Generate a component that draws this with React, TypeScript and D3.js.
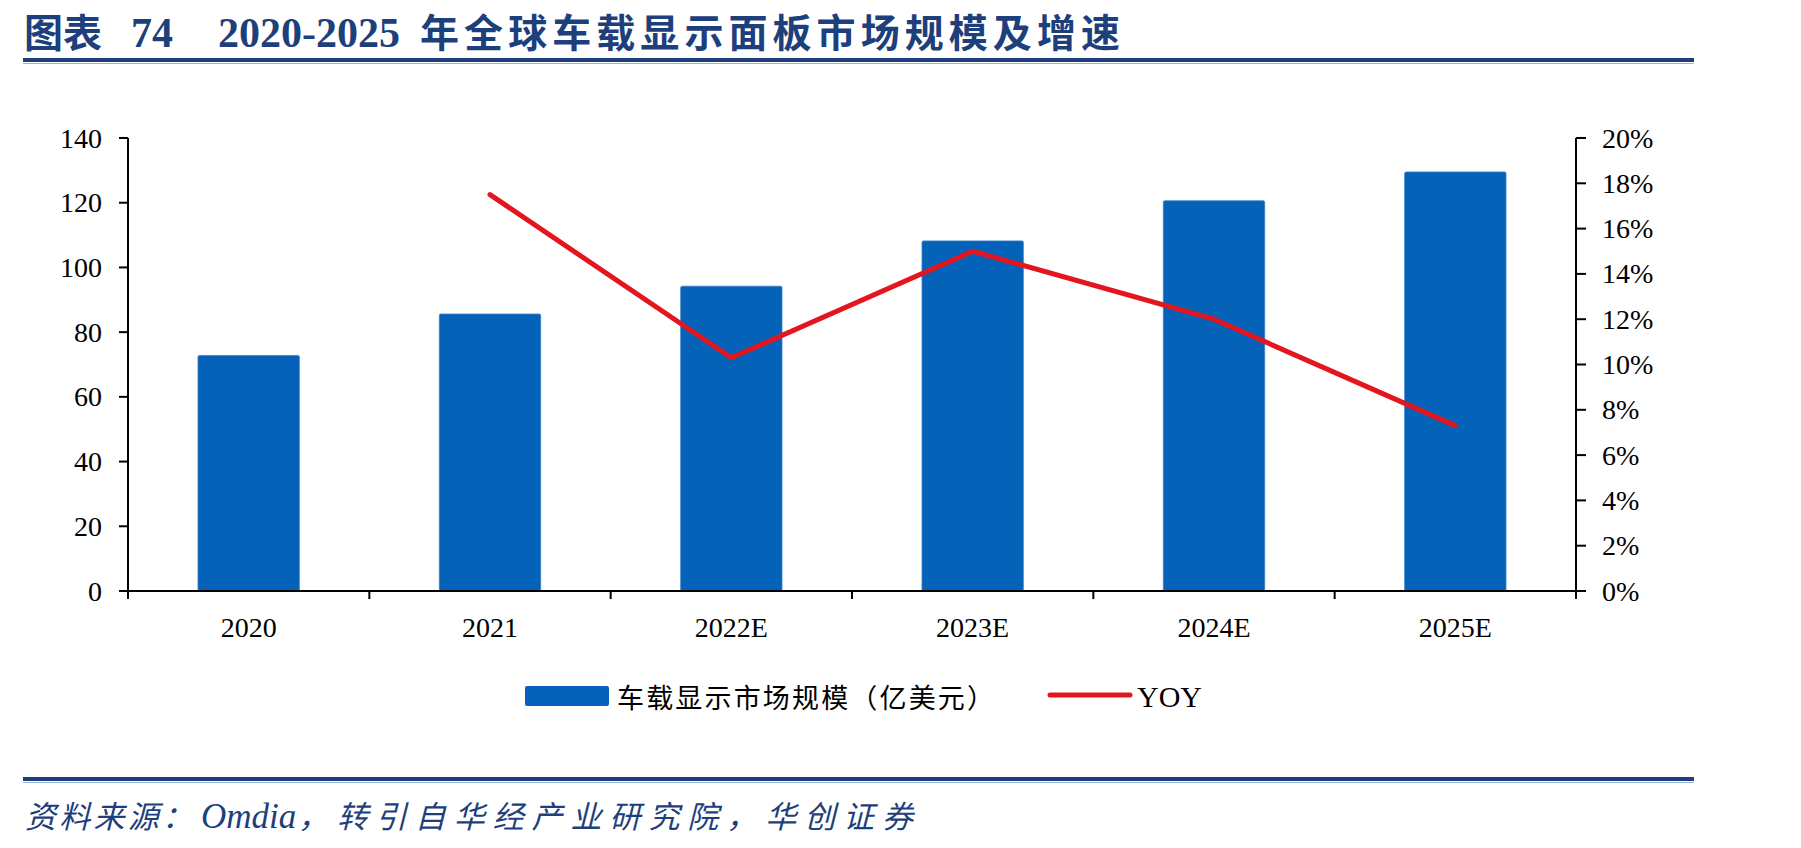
import { useEffect, useRef } from "react";
import * as d3 from "d3";

const CATEGORIES = ["2020", "2021", "2022E", "2023E", "2024E", "2025E"];
const MARKET_SIZE = [72.8, 85.6, 94.2, 108.2, 120.6, 129.5];
const YOY: (number | null)[] = [null, 17.5, 10.3, 15.0, 12.0, 7.3];
const LEFT_TICKS = [0, 20, 40, 60, 80, 100, 120, 140];
const RIGHT_TICKS = [0, 2, 4, 6, 8, 10, 12, 14, 16, 18, 20];

const BAR_LABEL = "车载显示市场规模（亿美元）";
const LINE_LABEL = "YOY";

const BLUE = "#0462B8";
const RED = "#E3151E";
const NAVY = "#1D3F7C";
const SERIF = "'Liberation Serif', 'Times New Roman', serif";
const CJK = "'Noto Sans CJK SC', sans-serif";

export default function App() {
  const ref = useRef<SVGSVGElement>(null);

  useEffect(() => {
    document.body.style.margin = "0";
    if (!ref.current) return;
    const svg = d3.select(ref.current);
    svg.selectAll("*").remove();

    const W = 1801;
    const H = 848;
    svg.attr("width", W).attr("height", H).attr("viewBox", `0 0 ${W} ${H}`);
    svg.append("rect").attr("width", W).attr("height", H).attr("fill", "#fff");

    // plot area
    const left = 128;
    const right = 1576;
    const top = 138;
    const bottom = 591;

    const x = d3
      .scaleBand<string>()
      .domain(CATEGORIES)
      .range([left, right])
      .paddingInner(0.58)
      .paddingOuter(0.29);
    const y = d3.scaleLinear().domain([0, 140]).range([bottom, top]);
    const y2 = d3.scaleLinear().domain([0, 20]).range([bottom, top]);

    // header
    const title = svg.append("g").attr("fill", NAVY).attr("font-weight", 700);
    title.append("text").attr("x", 24).attr("y", 47).attr("font-family", CJK).attr("font-size", 39).text("图表");
    title.append("text").attr("x", 131).attr("y", 47).attr("font-family", SERIF).attr("font-size", 42).text("74");
    title.append("text").attr("x", 218).attr("y", 47).attr("font-family", SERIF).attr("font-size", 42).text("2020-2025");
    title
      .append("text")
      .attr("x", 420)
      .attr("y", 47)
      .attr("font-family", CJK)
      .attr("font-size", 39)
      .attr("textLength", 700)
      .attr("lengthAdjust", "spacing")
      .text("年全球车载显示面板市场规模及增速");

    [60, 779].forEach((ly) => {
      svg.append("rect").attr("x", 23).attr("y", ly - 2).attr("width", 1671).attr("height", 4).attr("fill", NAVY);
      svg.append("line").attr("x1", 23).attr("x2", 1694).attr("y1", ly + 3.5).attr("y2", ly + 3.5).attr("stroke", "#9DB3D3").attr("stroke-width", 1);
    });

    // bars
    svg
      .append("g")
      .selectAll("rect")
      .data(CATEGORIES)
      .join("rect")
      .attr("x", (d) => x(d)!)
      .attr("y", (d, i) => y(MARKET_SIZE[i]))
      .attr("width", x.bandwidth())
      .attr("height", (d, i) => bottom - y(MARKET_SIZE[i]))
      .attr("rx", 1.5)
      .attr("fill", BLUE)
      .attr("stroke", "#3A80C8")
      .attr("stroke-width", 0.8);

    // axes
    const axes = svg.append("g").attr("stroke", "#000").attr("stroke-width", 2);
    axes.append("line").attr("x1", left).attr("x2", right).attr("y1", bottom).attr("y2", bottom);
    axes.append("line").attr("x1", left).attr("x2", left).attr("y1", top).attr("y2", bottom + 8);
    axes.append("line").attr("x1", right).attr("x2", right).attr("y1", top).attr("y2", bottom + 8);
    // category boundary ticks
    d3.range(CATEGORIES.length + 1).forEach((i) => {
      const tx = left + i * x.step();
      axes.append("line").attr("x1", tx).attr("x2", tx).attr("y1", bottom).attr("y2", bottom + 8);
    });
    LEFT_TICKS.forEach((t) => {
      axes.append("line").attr("x1", left - 9).attr("x2", left).attr("y1", y(t)).attr("y2", y(t));
    });
    RIGHT_TICKS.forEach((t) => {
      axes.append("line").attr("x1", right).attr("x2", right + 10).attr("y1", y2(t)).attr("y2", y2(t));
    });

    const labels = svg.append("g").attr("font-family", SERIF).attr("font-size", 28).attr("fill", "#000");
    LEFT_TICKS.forEach((t) => {
      labels
        .append("text")
        .attr("x", left - 26)
        .attr("y", y(t))
        .attr("text-anchor", "end")
        .attr("dominant-baseline", "central")
        .text(t);
    });
    RIGHT_TICKS.forEach((t) => {
      labels
        .append("text")
        .attr("x", right + 26)
        .attr("y", y2(t))
        .attr("dominant-baseline", "central")
        .text(`${t}%`);
    });
    CATEGORIES.forEach((c) => {
      labels
        .append("text")
        .attr("x", x(c)! + x.bandwidth() / 2)
        .attr("y", 637)
        .attr("text-anchor", "middle")
        .text(c);
    });

    // YOY line
    const line = d3
      .line<number | null>()
      .defined((d) => d !== null)
      .x((d, i) => x(CATEGORIES[i])! + x.bandwidth() / 2)
      .y((d) => y2(d as number));
    svg
      .append("path")
      .datum(YOY)
      .attr("fill", "none")
      .attr("stroke", RED)
      .attr("stroke-width", 5)
      .attr("stroke-linecap", "round")
      .attr("stroke-linejoin", "round")
      .attr("d", line);

    // legend
    const leg = svg.append("g");
    leg.append("rect").attr("x", 525).attr("y", 686).attr("width", 84).attr("height", 20).attr("rx", 2).attr("fill", BLUE);
    leg
      .append("text")
      .attr("x", 617)
      .attr("y", 696)
      .attr("dominant-baseline", "central")
      .attr("font-family", CJK)
      .attr("font-size", 27)
      .attr("textLength", 377)
      .attr("lengthAdjust", "spacing")
      .text(BAR_LABEL);
    leg
      .append("line")
      .attr("x1", 1050)
      .attr("x2", 1130)
      .attr("y1", 695)
      .attr("y2", 695)
      .attr("stroke", RED)
      .attr("stroke-width", 5)
      .attr("stroke-linecap", "round");
    leg
      .append("text")
      .attr("x", 1137)
      .attr("y", 696)
      .attr("dominant-baseline", "central")
      .attr("font-family", SERIF)
      .attr("font-size", 30)
      .text(LINE_LABEL);

    // source
    const src = svg.append("g").attr("fill", NAVY).attr("font-style", "italic");
    src
      .append("text")
      .attr("x", 25)
      .attr("y", 828)
      .attr("font-family", CJK)
      .attr("font-size", 31)
      .attr("textLength", 168)
      .attr("lengthAdjust", "spacing")
      .text("资料来源：");
    src
      .append("text")
      .attr("x", 201)
      .attr("y", 828)
      .attr("font-family", SERIF)
      .attr("font-size", 35)
      .text("Omdia");
    src
      .append("text")
      .attr("x", 298)
      .attr("y", 828)
      .attr("font-family", CJK)
      .attr("font-size", 31)
      .attr("textLength", 615)
      .attr("lengthAdjust", "spacing")
      .text("，转引自华经产业研究院，华创证券");
  }, []);

  return <svg ref={ref} style={{ display: "block" }} />;
}
